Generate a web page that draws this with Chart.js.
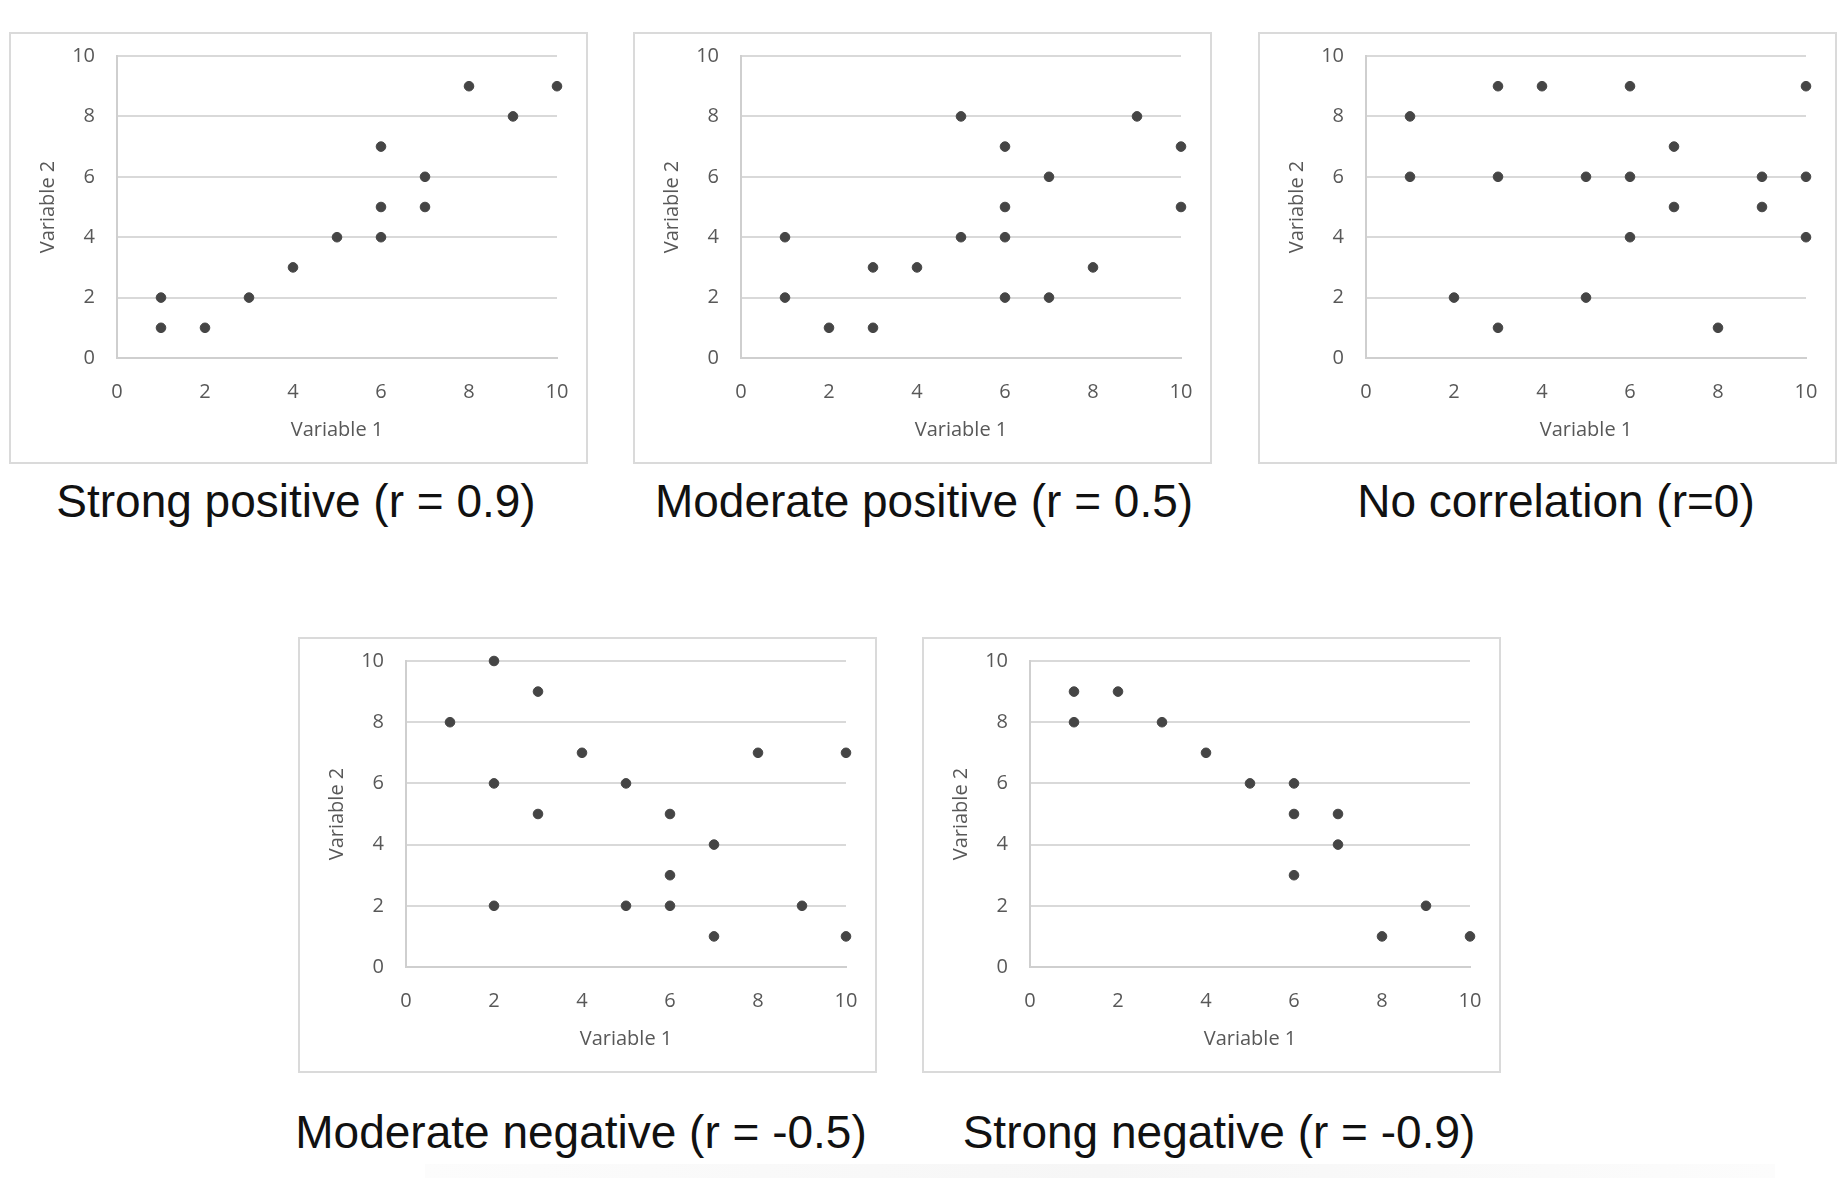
<!DOCTYPE html>
<html>
<head>
<meta charset="utf-8">
<title>Correlation examples</title>
<script src="https://cdn.jsdelivr.net/npm/chart.js@4.4.0/dist/chart.umd.min.js"></script>
<style>
    html, body {
        margin: 0;
        padding: 0;
        background: #ffffff;
    }
    body {
        width: 1846px;
        height: 1178px;
        position: relative;
        overflow: hidden;
    }
    .chart-box {
        position: absolute;
        width: 579px;
        height: 432px;
        border: 2px solid #dadada;
        box-sizing: border-box;
        background: #fff;
    }
    .chart-box canvas {
        display: block;
    }
    .chart-caption {
        position: absolute;
        width: 700px;
        margin-left: -350px;
        text-align: center;
        font-family: 'Liberation Sans', Arial, sans-serif;
        font-size: 46px;
        line-height: 46px;
        color: #111;
        white-space: nowrap;
    }
    .bottom-strip {
        position: absolute;
        left: 425px;
        top: 1164px;
        width: 1350px;
        height: 14px;
        background: linear-gradient(to right, #fcfcfc, #f6f6f6 50%, #fcfcfc);
    }
</style>
</head>
<body>

<div class="chart-box" style="left:9px; top:32px;"><canvas id="chart-strong-pos"></canvas></div>
<div class="chart-box" style="left:633px; top:32px;"><canvas id="chart-moderate-pos"></canvas></div>
<div class="chart-box" style="left:1258px; top:32px;"><canvas id="chart-none"></canvas></div>
<div class="chart-box" style="left:298px; top:637px; height:436px;"><canvas id="chart-moderate-neg"></canvas></div>
<div class="chart-box" style="left:922px; top:637px; height:436px;"><canvas id="chart-strong-neg"></canvas></div>

<div class="chart-caption" style="left:296px; top:478px;">Strong positive (r = 0.9)</div>
<div class="chart-caption" style="left:924px; top:478px;">Moderate positive (r = 0.5)</div>
<div class="chart-caption" style="left:1556px; top:478px;">No correlation (r=0)</div>
<div class="chart-caption" style="left:581px; top:1109px;">Moderate negative (r = -0.5)</div>
<div class="chart-caption" style="left:1219px; top:1109px;">Strong negative (r = -0.9)</div>

<div class="bottom-strip"></div>

<script>
// Data
const axisTicks = [0, 2, 4, 6, 8, 10];
const xTitle = 'Variable 1';
const yTitle = 'Variable 2';

const strongPosX = [1, 1, 2, 3, 4, 5, 6, 6, 6, 7, 7, 8, 9, 10];
const strongPosY = [2, 1, 1, 2, 3, 4, 7, 5, 4, 6, 5, 9, 8, 9];

const moderatePosX = [1, 1, 2, 3, 3, 4, 5, 5, 6, 6, 6, 6, 7, 7, 8, 9, 10, 10];
const moderatePosY = [4, 2, 1, 3, 1, 3, 8, 4, 7, 5, 4, 2, 6, 2, 3, 8, 7, 5];

const noCorrX = [1, 1, 2, 3, 3, 3, 4, 5, 5, 6, 6, 6, 7, 7, 8, 9, 9, 10, 10, 10];
const noCorrY = [8, 6, 2, 9, 6, 1, 9, 6, 2, 9, 6, 4, 7, 5, 1, 6, 5, 9, 6, 4];

const moderateNegX = [1, 2, 2, 2, 3, 3, 4, 5, 5, 6, 6, 6, 7, 7, 8, 9, 10, 10];
const moderateNegY = [8, 10, 6, 2, 9, 5, 7, 6, 2, 5, 3, 2, 4, 1, 7, 2, 7, 1];

const strongNegX = [1, 1, 2, 3, 4, 5, 6, 6, 6, 7, 7, 8, 9, 10];
const strongNegY = [9, 8, 9, 8, 7, 6, 6, 5, 3, 5, 4, 1, 2, 1];

// Style
const GRID_COLOR = '#d9d9d9';
const AXIS_COLOR = '#cfcfcf';
const TEXT_COLOR = '#585858';
const POINT_COLOR = '#454545';

Chart.defaults.font.family = "'Open Sans', sans-serif";
Chart.defaults.font.size = 20;
Chart.defaults.color = TEXT_COLOR;

// Helper Functions
const toPoints = (xs, ys) => xs.map((x, i) => ({ x: x, y: ys[i] }));

const fixedTicks = (scale) => {
    scale.ticks = axisTicks.map(v => ({ value: v }));
};

// keep the plot area exactly where the layout padding puts it
const clearScalePadding = (scale) => {
    scale.paddingTop = 0;
    scale.paddingBottom = 0;
    scale.paddingLeft = 0;
    scale.paddingRight = 0;
};

const buildScatter = (canvasId, xs, ys) => {
    const canvas = document.getElementById(canvasId);
    const box = canvas.parentElement;
    canvas.width = box.clientWidth;
    canvas.height = box.clientHeight;

    return new Chart(canvas.getContext('2d'), {
        type: 'scatter',
        data: {
            datasets: [{
                data: toPoints(xs, ys),
                backgroundColor: POINT_COLOR,
                borderColor: POINT_COLOR,
                pointRadius: 4.8,
                pointHoverRadius: 4.8,
                clip: false
            }]
        },
        options: {
            responsive: false,
            animation: false,
            devicePixelRatio: 1,
            layout: {
                autoPadding: false,
                padding: { left: 21, right: 29, top: 22, bottom: 16 }
            },
            plugins: {
                legend: { display: false },
                tooltip: { enabled: false }
            },
            scales: {
                x: {
                    type: 'linear',
                    min: 0,
                    max: 10,
                    afterBuildTicks: fixedTicks,
                    afterFit: (scale) => {
                        scale.height = 88;
                        clearScalePadding(scale);
                    },
                    grid: { display: false, drawTicks: false },
                    border: { display: true, color: AXIS_COLOR, width: 2 },
                    ticks: { padding: 22, color: TEXT_COLOR, maxRotation: 0 },
                    title: {
                        display: true,
                        text: xTitle,
                        color: TEXT_COLOR,
                        font: { size: 20 }
                    }
                },
                y: {
                    type: 'linear',
                    min: 0,
                    max: 10,
                    afterBuildTicks: fixedTicks,
                    afterFit: (scale) => {
                        scale.width = 85;
                        clearScalePadding(scale);
                    },
                    grid: {
                        color: GRID_COLOR,
                        lineWidth: 2,
                        drawTicks: false
                    },
                    border: { display: true, color: AXIS_COLOR, width: 2 },
                    ticks: { padding: 22, color: TEXT_COLOR },
                    title: {
                        display: true,
                        text: yTitle,
                        color: TEXT_COLOR,
                        font: { size: 20 }
                    }
                }
            }
        }
    });
};

// Charts
buildScatter('chart-strong-pos', strongPosX, strongPosY);
buildScatter('chart-moderate-pos', moderatePosX, moderatePosY);
buildScatter('chart-none', noCorrX, noCorrY);
buildScatter('chart-moderate-neg', moderateNegX, moderateNegY);
buildScatter('chart-strong-neg', strongNegX, strongNegY);
</script>
</body>
</html>
